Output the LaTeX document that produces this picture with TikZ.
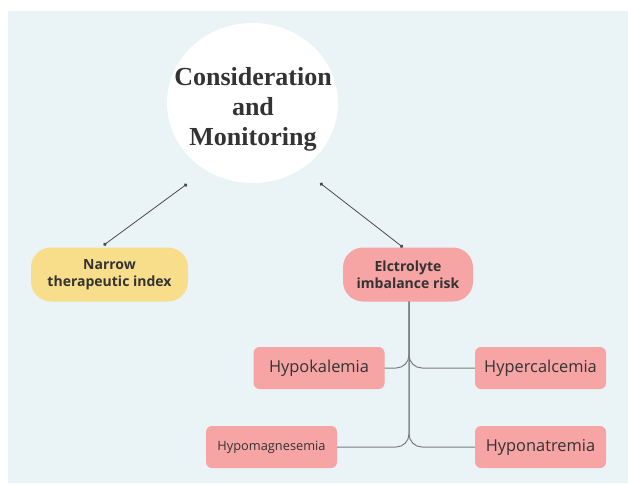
\documentclass[tikz,border=0pt]{standalone}
\usepackage{fontspec}
\setmainfont{Liberation Serif}
\setsansfont{Open Sans}
\usetikzlibrary{arrows.meta}
\definecolor{bgblue}{HTML}{EAF4F6}
\definecolor{pillyellow}{HTML}{F8DD8A}
\definecolor{tagpink}{HTML}{F6A4A4}
\definecolor{txtgray}{HTML}{333333}
\definecolor{linegray}{HTML}{4A4A4A}
\definecolor{branchgray}{HTML}{7A7F80}

\begin{document}
\begin{tikzpicture} [x=1pt,y=-1pt,
  pill/.style={rounded corners=20pt, minimum height=54pt, align=center, text=txtgray, font=\sffamily\bfseries\fontsize{14}{17}\selectfont},
  tag/.style={rounded corners=6pt, fill=tagpink, minimum width=131pt, minimum height=42pt, text=txtgray, font=\sffamily\fontsize{16.4}{19}\selectfont},
  link/.style={linegray, line width=.8pt, {Circle[length=3.5pt]}-{Circle[length=3.5pt]}},
  branch/.style={branchgray, line width=1pt, rounded corners=13pt}]
\useasboundingbox (0,0) rectangle (628,483);
\fill[bgblue] (8,11) rectangle (628,483);

% title
\fill[white] (252.5,103) ellipse [x radius=85.5, y radius=80];
\node[align=center, text=txtgray, font=\bfseries\fontsize{26}{30}\selectfont] (cm) at (253,109) {Consideration\\and\\Monitoring};

% first level
\node[pill, fill=pillyellow, minimum width=157pt] (nti) at (109.5,274.5) {Narrow\\therapeutic index};
\node[pill, fill=tagpink, minimum width=130pt] (elr) at (408,274.5) {Elctrolyte\\imbalance risk};

\coordinate (cmL) at (187,184);
\coordinate (cmR) at (320,183);
\draw[link] (cmL) -- ([xshift=-6pt,yshift=2pt]nti.north);
\draw[link] (cmR) -- ([xshift=-5pt]elr.north);

% electrolytes
\node[tag] (hk) at (319,368) {Hypokalemia};
\node[tag] (hc) at (540.5,368) {Hypercalcemia};
\node[tag, font=\sffamily\fontsize{12.8}{15}\selectfont] (hm) at (271.5,447) {Hypomagnesemia};
\node[tag] (hn) at (540.5,447) {Hyponatremia};

\foreach \t in {hk,hc,hm,hn} \draw[branch] ([xshift=1pt]elr.south) |- (\t);

\end{tikzpicture}
\end{document}
